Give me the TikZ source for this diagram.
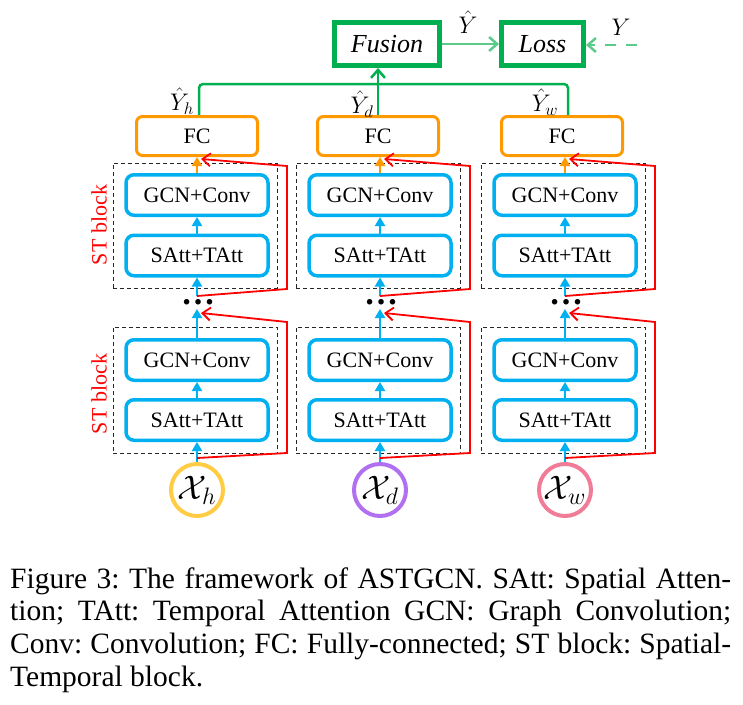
\RequirePackage{fix-cm}
\documentclass[tikz,border=0pt]{standalone}
\usepackage{fontspec}
\setmainfont{Liberation Serif}
\usetikzlibrary{arrows.meta,calc}
\definecolor{cblue}{HTML}{00B0F0}
\definecolor{corange}{HTML}{FF9900}
\definecolor{cgreen}{HTML}{00B050}
\definecolor{clgreen}{HTML}{5CCB8A}
\definecolor{cred}{HTML}{FF0000}
\definecolor{cyel}{HTML}{FFCC44}
\definecolor{cpur}{HTML}{B070F0}
\definecolor{cpink}{HTML}{F07C98}
\begin{document}
\begin{tikzpicture}[x=1pt,y=-1pt,
  blk/.style={draw=cblue, line width=3.5pt, rounded corners=8pt, minimum width=142pt, minimum height=40.5pt, inner sep=0pt, font=\fontsize{22}{24}\selectfont},
  fcbox/.style={draw=corange, line width=3pt, rounded corners=6pt, minimum width=121pt, minimum height=39pt, inner sep=0pt, font=\fontsize{22}{24}\selectfont},
  gbox/.style={draw=cgreen, line width=5pt, minimum height=43pt, inner sep=0pt, font=\fontsize{26}{28}\selectfont\itshape},
  stbox/.style={draw=black!85, dashed, dash pattern=on 4pt off 3pt, line width=0.8pt, minimum width=164pt, inner sep=0pt},
  incirc/.style={circle, line width=4pt, minimum size=52pt, inner sep=0pt, font=\fontsize{34}{36}\selectfont},
  barrow/.style={draw=cblue, line width=2pt, -{Triangle[length=9pt,width=10pt]}},
  oarrow/.style={draw=corange, line width=2pt, -{Triangle[length=9pt,width=10pt]}},
  rarrow/.style={draw=cred, line width=1.8pt, -{Straight Barb[length=8pt,width=13pt,line width=1.8pt]}},
  gline/.style={draw=cgreen, line width=2.5pt},
  lgarrow/.style={draw=clgreen, line width=2.5pt, -{Straight Barb[length=8pt,width=14pt,line width=2.5pt]}},
  stlabel/.style={text=cred, rotate=90, font=\fontsize{22}{24}\selectfont},
  ylab/.style={inner sep=0pt, font=\fontsize{24}{26}\selectfont},
  caption/.style={anchor=base west, inner sep=0pt, font=\fontsize{29.5}{32}\selectfont\frenchspacing}
]
\useasboundingbox (0,0) rectangle (743,704);

% top boxes
\node[gbox, minimum width=105pt] (fusion) at (387,44) {Fusion};
\node[gbox, minimum width=82pt] (loss) at (542.5,44) {Loss};
\coordinate (ysrc) at (637,45);
\draw[lgarrow] (fusion.east) -- (loss.west);
\draw[lgarrow, dash pattern=on 11pt off 10pt] (ysrc) -- (loss.east |- ysrc);
\node[ylab] (yhat) at (468,22) {$\hat{Y}$};
\node[ylab] (ytrue) at (621,27) {$Y$};

\foreach \c/\cx/\fx/\col in {h/197/197/cyel, d/380/378/cpur, w/565/562/cpink}{
  % FC
  \node[fcbox] (fc\c) at (\fx,136) {FC};
  % upper ST block
  \node[stbox, minimum height=125pt] (stu\c) at ({\cx-2},225.5) {};
  \node[blk] (gu\c) at (\cx,195) {GCN+Conv};
  \node[blk] (su\c) at (\cx,255.5) {SAtt+TAtt};
  % lower ST block
  \node[stbox, minimum height=126pt] (stl\c) at ({\cx-2},390) {};
  \node[blk] (gl\c) at (\cx,360) {GCN+Conv};
  \node[blk] (sl\c) at (\cx,420) {SAtt+TAtt};
  % input
  \node[incirc, draw=\col] (x\c) at (\cx,490) {$\mathcal{X}_{\c}$};
  % dots
  \node[anchor=base, inner sep=0pt, font=\fontsize{34}{36}\selectfont\bfseries] (dots\c) at ({\cx+1},304) {…};
  \coordinate (tip\c) at (\cx,309);
  \coordinate (src\c) at (\cx,296);
  % flow arrows
  \draw[barrow] (x\c.north) -- (sl\c.south);
  \draw[barrow] (sl\c.north) -- (gl\c.south);
  \draw[barrow] (gl\c.north) -- (tip\c);
  \draw[barrow] (src\c) -- (su\c.south);
  \draw[barrow] (su\c.north) -- (gu\c.south);
  \draw[oarrow] (gu\c.north) -- (gu\c.north |- fc\c.south);
  % residual connections
  \coordinate (rl\c) at (\cx,458);
  \coordinate (rlend\c) at ({\cx+4},313);
  \draw[rarrow] (rl\c) -- ({\cx+90},453) -- ({\cx+90},322) -- (rlend\c);
  \coordinate (ruend\c) at ({\cx+4},159);
  \draw[rarrow] (src\c) -- ({\cx+90},289) -- ({\cx+90},166) -- (ruend\c);
}

% ST block labels
\node[stlabel] (stlabu) at (99,225) {ST block};
\node[stlabel] (stlabl) at (99,394) {ST block};

% green connections to fusion
\draw[gline, rounded corners=4pt] ($(fch.north)+(2,0)$) -- ($(fch.north)+(2,-31)$) -- ($(fcw.north)+(6,-31)$) -- ($(fcw.north)+(6,0)$);
\draw[gline, -{Straight Barb[length=8pt,width=14pt,line width=2.5pt]}] (fcd.north) -- (fcd.north |- fusion.south);
\node[ylab] (yh) at (182,101) {$\hat{Y}_h$};
\node[ylab] (yd) at (362,104) {$\hat{Y}_d$};
\node[ylab] (yw) at (545,102) {$\hat{Y}_w$};

% caption
\node[caption] (cap1) at (10,588) {\makebox[721pt][s]{Figure 3: The framework of ASTGCN. SAtt: Spatial Atten-}};
\node[caption] (cap2) at (10,620) {\makebox[721pt][s]{tion; TAtt: Temporal Attention GCN: Graph Convolution;}};
\node[caption] (cap3) at (10,653) {\makebox[721pt][s]{Conv: Convolution; FC: Fully-connected; ST block: Spatial-}};
\node[caption] (cap4) at (10,686) {Temporal block.};
\end{tikzpicture}
\end{document}
